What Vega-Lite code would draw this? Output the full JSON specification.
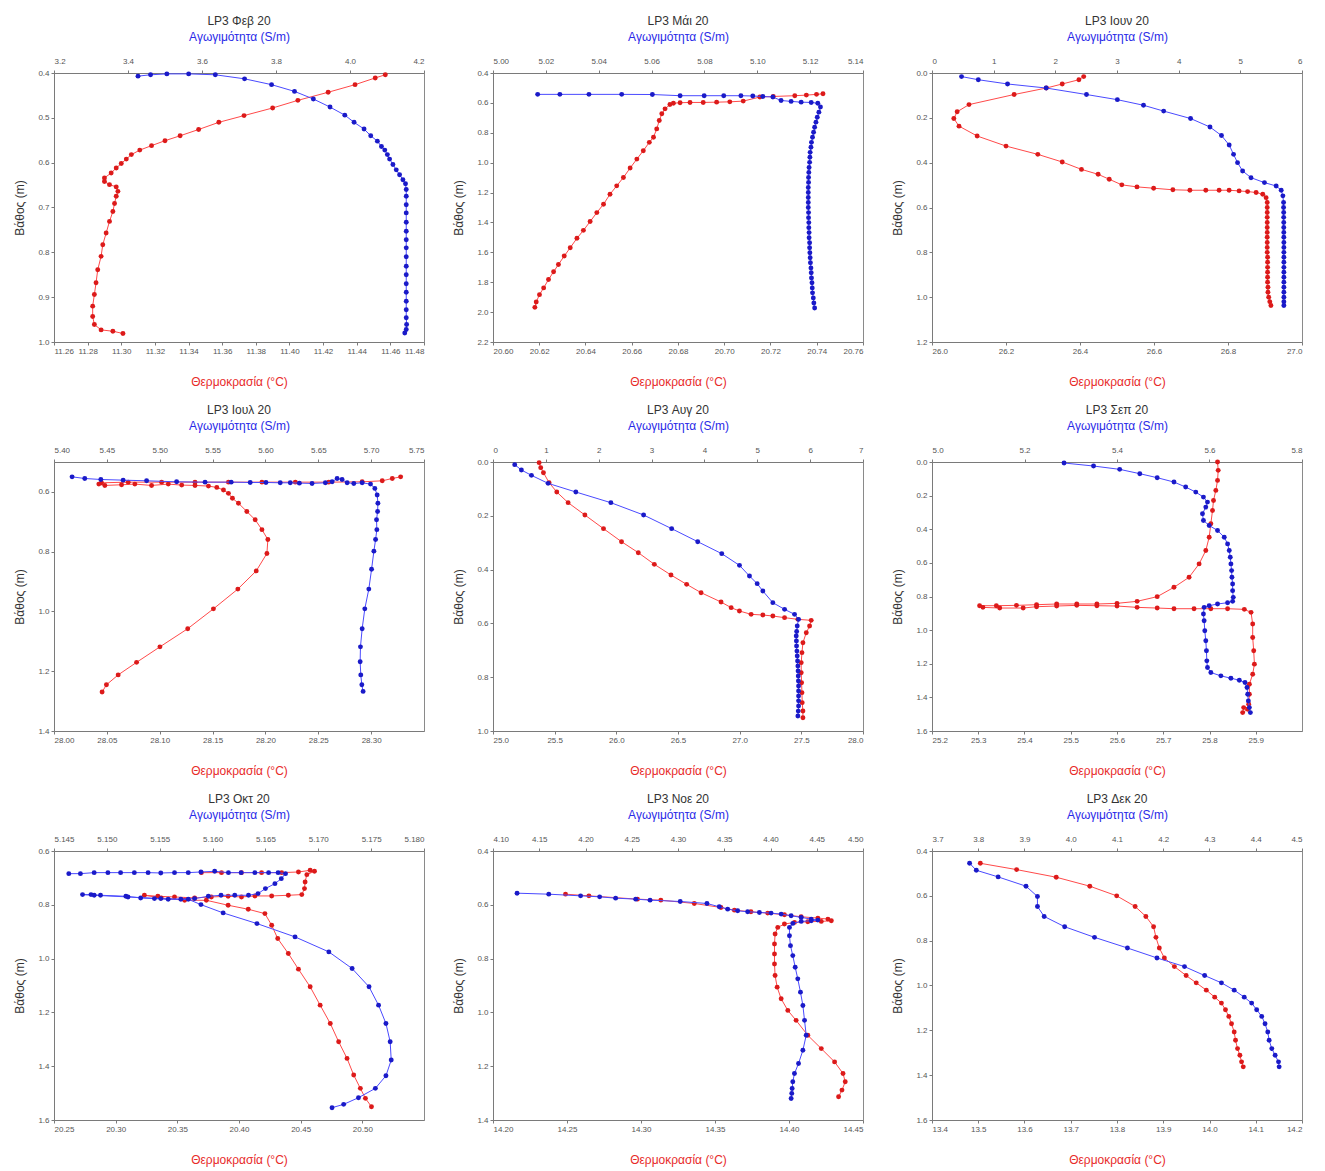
{
"$schema": "https://vega.github.io/schema/vega-lite/v6.json",
"background": "white",
"padding": {"left": 13, "top": 14, "right": 5, "bottom": 5},
"bounds": "flush",
"columns": 3,
"spacing": {"row": 120, "column": 69},
"datasets": {
"feb": [
{"s":"C","v":3.427,"d":0.407},{"s":"C","v":3.461,"d":0.404},{"s":"C","v":3.505,"d":0.402},{"s":"C","v":3.564,"d":0.402},{"s":"C","v":3.636,"d":0.404},{"s":"C","v":3.715,"d":0.413},{"s":"C","v":3.788,"d":0.426},{"s":"C","v":3.850,"d":0.441},{"s":"C","v":3.901,"d":0.458},{"s":"C","v":3.946,"d":0.476},{"s":"C","v":3.986,"d":0.494},{"s":"C","v":4.011,"d":0.510},{"s":"C","v":4.038,"d":0.525},{"s":"C","v":4.056,"d":0.540},{"s":"C","v":4.074,"d":0.552},{"s":"C","v":4.085,"d":0.564},{"s":"C","v":4.094,"d":0.572},{"s":"C","v":4.101,"d":0.582},{"s":"C","v":4.107,"d":0.592},{"s":"C","v":4.116,"d":0.604},{"s":"C","v":4.125,"d":0.616},{"s":"C","v":4.134,"d":0.627},{"s":"C","v":4.143,"d":0.638},{"s":"C","v":4.150,"d":0.647},{"s":"C","v":4.152,"d":0.660},{"s":"C","v":4.152,"d":0.675},{"s":"C","v":4.152,"d":0.694},{"s":"C","v":4.152,"d":0.712},{"s":"C","v":4.152,"d":0.733},{"s":"C","v":4.152,"d":0.753},{"s":"C","v":4.152,"d":0.772},{"s":"C","v":4.152,"d":0.790},{"s":"C","v":4.152,"d":0.810},{"s":"C","v":4.152,"d":0.831},{"s":"C","v":4.152,"d":0.850},{"s":"C","v":4.152,"d":0.870},{"s":"C","v":4.152,"d":0.889},{"s":"C","v":4.152,"d":0.909},{"s":"C","v":4.152,"d":0.928},{"s":"C","v":4.152,"d":0.946},{"s":"C","v":4.153,"d":0.961},{"s":"C","v":4.152,"d":0.972},{"s":"C","v":4.148,"d":0.980},
{"s":"T","v":11.457,"d":0.404},{"s":"T","v":11.451,"d":0.411},{"s":"T","v":11.439,"d":0.426},{"s":"T","v":11.423,"d":0.443},{"s":"T","v":11.405,"d":0.461},{"s":"T","v":11.390,"d":0.478},{"s":"T","v":11.373,"d":0.495},{"s":"T","v":11.358,"d":0.510},{"s":"T","v":11.346,"d":0.526},{"s":"T","v":11.335,"d":0.540},{"s":"T","v":11.326,"d":0.551},{"s":"T","v":11.318,"d":0.562},{"s":"T","v":11.311,"d":0.572},{"s":"T","v":11.306,"d":0.582},{"s":"T","v":11.303,"d":0.592},{"s":"T","v":11.300,"d":0.602},{"s":"T","v":11.297,"d":0.612},{"s":"T","v":11.294,"d":0.623},{"s":"T","v":11.290,"d":0.634},{"s":"T","v":11.290,"d":0.642},{"s":"T","v":11.293,"d":0.649},{"s":"T","v":11.297,"d":0.654},{"s":"T","v":11.298,"d":0.664},{"s":"T","v":11.297,"d":0.675},{"s":"T","v":11.296,"d":0.691},{"s":"T","v":11.295,"d":0.709},{"s":"T","v":11.293,"d":0.731},{"s":"T","v":11.291,"d":0.757},{"s":"T","v":11.289,"d":0.783},{"s":"T","v":11.288,"d":0.809},{"s":"T","v":11.286,"d":0.839},{"s":"T","v":11.285,"d":0.868},{"s":"T","v":11.284,"d":0.894},{"s":"T","v":11.283,"d":0.920},{"s":"T","v":11.283,"d":0.943},{"s":"T","v":11.284,"d":0.961},{"s":"T","v":11.288,"d":0.973},{"s":"T","v":11.295,"d":0.976},{"s":"T","v":11.301,"d":0.981}
],
"mai": [
{"s":"C","v":5.0169,"d":0.543},{"s":"C","v":5.0253,"d":0.543},{"s":"C","v":5.0363,"d":0.543},{"s":"C","v":5.0487,"d":0.543},{"s":"C","v":5.0603,"d":0.544},{"s":"C","v":5.0708,"d":0.552},{"s":"C","v":5.0799,"d":0.552},{"s":"C","v":5.0873,"d":0.552},{"s":"C","v":5.0938,"d":0.552},{"s":"C","v":5.0983,"d":0.554},{"s":"C","v":5.1021,"d":0.557},{"s":"C","v":5.1059,"d":0.561},{"s":"C","v":5.1090,"d":0.584},{"s":"C","v":5.1128,"d":0.590},{"s":"C","v":5.1166,"d":0.595},{"s":"C","v":5.1204,"d":0.597},{"s":"C","v":5.1229,"d":0.602},{"s":"C","v":5.1239,"d":0.628},{"s":"C","v":5.1233,"d":0.662},{"s":"C","v":5.1227,"d":0.696},{"s":"C","v":5.1222,"d":0.729},{"s":"C","v":5.1217,"d":0.763},{"s":"C","v":5.1213,"d":0.796},{"s":"C","v":5.1209,"d":0.830},{"s":"C","v":5.1205,"d":0.864},{"s":"C","v":5.1203,"d":0.897},{"s":"C","v":5.1200,"d":0.931},{"s":"C","v":5.1199,"d":0.964},{"s":"C","v":5.1198,"d":0.998},{"s":"C","v":5.1196,"d":1.032},{"s":"C","v":5.1195,"d":1.065},{"s":"C","v":5.1194,"d":1.099},{"s":"C","v":5.1194,"d":1.132},{"s":"C","v":5.1193,"d":1.166},{"s":"C","v":5.1193,"d":1.200},{"s":"C","v":5.1193,"d":1.233},{"s":"C","v":5.1193,"d":1.267},{"s":"C","v":5.1193,"d":1.300},{"s":"C","v":5.1194,"d":1.334},{"s":"C","v":5.1194,"d":1.368},{"s":"C","v":5.1195,"d":1.401},{"s":"C","v":5.1195,"d":1.435},{"s":"C","v":5.1196,"d":1.468},{"s":"C","v":5.1196,"d":1.502},{"s":"C","v":5.1198,"d":1.536},{"s":"C","v":5.1198,"d":1.569},{"s":"C","v":5.1199,"d":1.603},{"s":"C","v":5.1200,"d":1.636},{"s":"C","v":5.1201,"d":1.670},{"s":"C","v":5.1203,"d":1.704},{"s":"C","v":5.1204,"d":1.737},{"s":"C","v":5.1205,"d":1.771},{"s":"C","v":5.1207,"d":1.804},{"s":"C","v":5.1208,"d":1.838},{"s":"C","v":5.1209,"d":1.871},{"s":"C","v":5.1212,"d":1.905},{"s":"C","v":5.1214,"d":1.939},{"s":"C","v":5.1217,"d":1.972},
{"s":"T","v":20.7427,"d":0.539},{"s":"T","v":20.7399,"d":0.543},{"s":"T","v":20.7355,"d":0.548},{"s":"T","v":20.7305,"d":0.552},{"s":"T","v":20.7212,"d":0.557},{"s":"T","v":20.7154,"d":0.561},{"s":"T","v":20.7082,"d":0.588},{"s":"T","v":20.7024,"d":0.593},{"s":"T","v":20.6967,"d":0.595},{"s":"T","v":20.6909,"d":0.597},{"s":"T","v":20.6852,"d":0.597},{"s":"T","v":20.6809,"d":0.599},{"s":"T","v":20.678,"d":0.602},{"s":"T","v":20.6765,"d":0.611},{"s":"T","v":20.6744,"d":0.640},{"s":"T","v":20.673,"d":0.673},{"s":"T","v":20.6719,"d":0.718},{"s":"T","v":20.6708,"d":0.774},{"s":"T","v":20.6694,"d":0.830},{"s":"T","v":20.6676,"d":0.864},{"s":"T","v":20.665,"d":0.920},{"s":"T","v":20.6622,"d":0.976},{"s":"T","v":20.6593,"d":1.036},{"s":"T","v":20.6564,"d":1.099},{"s":"T","v":20.6535,"d":1.155},{"s":"T","v":20.6506,"d":1.211},{"s":"T","v":20.6478,"d":1.278},{"s":"T","v":20.6449,"d":1.334},{"s":"T","v":20.642,"d":1.394},{"s":"T","v":20.6391,"d":1.453},{"s":"T","v":20.6363,"d":1.506},{"s":"T","v":20.6334,"d":1.569},{"s":"T","v":20.6308,"d":1.625},{"s":"T","v":20.6283,"d":1.681},{"s":"T","v":20.6262,"d":1.730},{"s":"T","v":20.624,"d":1.782},{"s":"T","v":20.6219,"d":1.838},{"s":"T","v":20.6201,"d":1.883},{"s":"T","v":20.6187,"d":1.932},{"s":"T","v":20.6181,"d":1.968}
],
"iun": [
{"s":"C","v":0.479,"d":0.016},{"s":"C","v":0.751,"d":0.030},{"s":"C","v":1.225,"d":0.049},{"s":"C","v":1.851,"d":0.067},{"s":"C","v":2.505,"d":0.096},{"s":"C","v":3.006,"d":0.119},{"s":"C","v":3.430,"d":0.144},{"s":"C","v":3.757,"d":0.170},{"s":"C","v":4.193,"d":0.203},{"s":"C","v":4.508,"d":0.241},{"s":"C","v":4.694,"d":0.279},{"s":"C","v":4.819,"d":0.321},{"s":"C","v":4.890,"d":0.363},{"s":"C","v":4.955,"d":0.400},{"s":"C","v":5.037,"d":0.437},{"s":"C","v":5.173,"d":0.467},{"s":"C","v":5.391,"d":0.489},{"s":"C","v":5.581,"d":0.504},{"s":"C","v":5.663,"d":0.523},{"s":"C","v":5.690,"d":0.548},{"s":"C","v":5.701,"d":0.578},{"s":"C","v":5.701,"d":0.600},{"s":"C","v":5.703,"d":0.622},{"s":"C","v":5.703,"d":0.644},{"s":"C","v":5.704,"d":0.667},{"s":"C","v":5.704,"d":0.689},{"s":"C","v":5.705,"d":0.711},{"s":"C","v":5.705,"d":0.733},{"s":"C","v":5.706,"d":0.756},{"s":"C","v":5.706,"d":0.778},{"s":"C","v":5.706,"d":0.800},{"s":"C","v":5.706,"d":0.822},{"s":"C","v":5.706,"d":0.844},{"s":"C","v":5.706,"d":0.867},{"s":"C","v":5.706,"d":0.889},{"s":"C","v":5.706,"d":0.911},{"s":"C","v":5.706,"d":0.933},{"s":"C","v":5.706,"d":0.956},{"s":"C","v":5.706,"d":0.978},{"s":"C","v":5.706,"d":1.000},{"s":"C","v":5.706,"d":1.020},{"s":"C","v":5.706,"d":1.037},
{"s":"T","v":26.410,"d":0.016},{"s":"T","v":26.397,"d":0.030},{"s":"T","v":26.352,"d":0.049},{"s":"T","v":26.309,"d":0.067},{"s":"T","v":26.222,"d":0.096},{"s":"T","v":26.100,"d":0.141},{"s":"T","v":26.068,"d":0.173},{"s":"T","v":26.059,"d":0.203},{"s":"T","v":26.073,"d":0.237},{"s":"T","v":26.122,"d":0.281},{"s":"T","v":26.200,"d":0.326},{"s":"T","v":26.286,"d":0.363},{"s":"T","v":26.352,"d":0.397},{"s":"T","v":26.404,"d":0.430},{"s":"T","v":26.449,"d":0.452},{"s":"T","v":26.479,"d":0.474},{"s":"T","v":26.513,"d":0.499},{"s":"T","v":26.554,"d":0.508},{"s":"T","v":26.599,"d":0.514},{"s":"T","v":26.651,"d":0.521},{"s":"T","v":26.697,"d":0.523},{"s":"T","v":26.740,"d":0.523},{"s":"T","v":26.776,"d":0.523},{"s":"T","v":26.803,"d":0.523},{"s":"T","v":26.830,"d":0.526},{"s":"T","v":26.853,"d":0.529},{"s":"T","v":26.876,"d":0.533},{"s":"T","v":26.894,"d":0.541},{"s":"T","v":26.903,"d":0.556},{"s":"T","v":26.906,"d":0.578},{"s":"T","v":26.906,"d":0.600},{"s":"T","v":26.906,"d":0.622},{"s":"T","v":26.906,"d":0.644},{"s":"T","v":26.906,"d":0.667},{"s":"T","v":26.906,"d":0.689},{"s":"T","v":26.906,"d":0.711},{"s":"T","v":26.906,"d":0.733},{"s":"T","v":26.906,"d":0.756},{"s":"T","v":26.906,"d":0.778},{"s":"T","v":26.906,"d":0.800},{"s":"T","v":26.907,"d":0.822},{"s":"T","v":26.907,"d":0.844},{"s":"T","v":26.907,"d":0.867},{"s":"T","v":26.907,"d":0.889},{"s":"T","v":26.907,"d":0.911},{"s":"T","v":26.907,"d":0.933},{"s":"T","v":26.908,"d":0.956},{"s":"T","v":26.908,"d":0.978},{"s":"T","v":26.910,"d":1.000},{"s":"T","v":26.913,"d":1.020},{"s":"T","v":26.916,"d":1.037}
],
"iul": [
{"s":"C","v":5.4171,"d":0.5497},{"s":"C","v":5.4291,"d":0.5552},{"s":"C","v":5.4443,"d":0.5585},{"s":"C","v":5.4654,"d":0.5607},{"s":"C","v":5.4876,"d":0.5629},{"s":"C","v":5.516,"d":0.5663},{"s":"C","v":5.5429,"d":0.5674},{"s":"C","v":5.5676,"d":0.5674},{"s":"C","v":5.5856,"d":0.5685},{"s":"C","v":5.6005,"d":0.5685},{"s":"C","v":5.614,"d":0.5696},{"s":"C","v":5.6235,"d":0.5696},{"s":"C","v":5.6321,"d":0.5707},{"s":"C","v":5.6441,"d":0.5718},{"s":"C","v":5.6567,"d":0.5696},{"s":"C","v":5.6631,"d":0.5663},{"s":"C","v":5.6678,"d":0.5552},{"s":"C","v":5.6725,"d":0.5585},{"s":"C","v":5.6773,"d":0.5696},{"s":"C","v":5.6836,"d":0.5718},{"s":"C","v":5.6915,"d":0.5696},{"s":"C","v":5.6994,"d":0.574},{"s":"C","v":5.7035,"d":0.5883},{"s":"C","v":5.7057,"d":0.6104},{"s":"C","v":5.7064,"d":0.638},{"s":"C","v":5.7061,"d":0.6656},{"s":"C","v":5.7051,"d":0.6933},{"s":"C","v":5.7054,"d":0.7264},{"s":"C","v":5.7042,"d":0.7595},{"s":"C","v":5.7026,"d":0.7982},{"s":"C","v":5.7004,"d":0.8589},{"s":"C","v":5.6978,"d":0.9252},{"s":"C","v":5.694,"d":0.9914},{"s":"C","v":5.6915,"d":1.0577},{"s":"C","v":5.6899,"d":1.1184},{"s":"C","v":5.6896,"d":1.1681},{"s":"C","v":5.6902,"d":1.2123},{"s":"C","v":5.6912,"d":1.2454},{"s":"C","v":5.6924,"d":1.2675},
{"s":"T","v":28.3279,"d":0.5497},{"s":"T","v":28.32,"d":0.5552},{"s":"T","v":28.3105,"d":0.5629},{"s":"T","v":28.2915,"d":0.5663},{"s":"T","v":28.2599,"d":0.5674},{"s":"T","v":28.2283,"d":0.5674},{"s":"T","v":28.1967,"d":0.5674},{"s":"T","v":28.165,"d":0.5674},{"s":"T","v":28.1334,"d":0.5674},{"s":"T","v":28.1018,"d":0.5674},{"s":"T","v":28.0702,"d":0.5674},{"s":"T","v":28.0449,"d":0.5696},{"s":"T","v":28.0424,"d":0.574},{"s":"T","v":28.0481,"d":0.5784},{"s":"T","v":28.0639,"d":0.5762},{"s":"T","v":28.0765,"d":0.574},{"s":"T","v":28.0923,"d":0.5784},{"s":"T","v":28.1081,"d":0.574},{"s":"T","v":28.1208,"d":0.5773},{"s":"T","v":28.1334,"d":0.5784},{"s":"T","v":28.1461,"d":0.5806},{"s":"T","v":28.154,"d":0.585},{"s":"T","v":28.1603,"d":0.5939},{"s":"T","v":28.165,"d":0.6049},{"s":"T","v":28.1688,"d":0.6215},{"s":"T","v":28.1745,"d":0.638},{"s":"T","v":28.1824,"d":0.6656},{"s":"T","v":28.1903,"d":0.6933},{"s":"T","v":28.1967,"d":0.7264},{"s":"T","v":28.2023,"d":0.7595},{"s":"T","v":28.2014,"d":0.8059},{"s":"T","v":28.1913,"d":0.8644},{"s":"T","v":28.1739,"d":0.9252},{"s":"T","v":28.1508,"d":0.9914},{"s":"T","v":28.1265,"d":1.0577},{"s":"T","v":28.1002,"d":1.1184},{"s":"T","v":28.0781,"d":1.1703},{"s":"T","v":28.0607,"d":1.2123},{"s":"T","v":28.0496,"d":1.2454},{"s":"T","v":28.0455,"d":1.2697}
],
"aug": [
{"s":"C","v":0.411,"d":0.0099},{"s":"C","v":0.537,"d":0.0297},{"s":"C","v":0.727,"d":0.0496},{"s":"C","v":1.042,"d":0.0793},{"s":"C","v":1.567,"d":0.1115},{"s":"C","v":2.230,"d":0.1512},{"s":"C","v":2.849,"d":0.197},{"s":"C","v":3.380,"d":0.2478},{"s":"C","v":3.873,"d":0.2962},{"s":"C","v":4.328,"d":0.3408},{"s":"C","v":4.663,"d":0.3842},{"s":"C","v":4.852,"d":0.4238},{"s":"C","v":4.998,"d":0.4523},{"s":"C","v":5.105,"d":0.4796},{"s":"C","v":5.294,"d":0.5229},{"s":"C","v":5.516,"d":0.5477},{"s":"C","v":5.705,"d":0.5663},{"s":"C","v":5.781,"d":0.5849},{"s":"C","v":5.756,"d":0.6097},{"s":"C","v":5.745,"d":0.630},{"s":"C","v":5.737,"d":0.6469},{"s":"C","v":5.740,"d":0.665},{"s":"C","v":5.743,"d":0.684},{"s":"C","v":5.750,"d":0.703},{"s":"C","v":5.756,"d":0.7212},{"s":"C","v":5.762,"d":0.740},{"s":"C","v":5.768,"d":0.7584},{"s":"C","v":5.772,"d":0.777},{"s":"C","v":5.775,"d":0.7956},{"s":"C","v":5.778,"d":0.814},{"s":"C","v":5.781,"d":0.8327},{"s":"C","v":5.781,"d":0.851},{"s":"C","v":5.781,"d":0.8699},{"s":"C","v":5.781,"d":0.888},{"s":"C","v":5.781,"d":0.9071},{"s":"C","v":5.775,"d":0.926},{"s":"C","v":5.768,"d":0.9443},
{"s":"T","v":25.374,"d":0.0025},{"s":"T","v":25.387,"d":0.0211},{"s":"T","v":25.409,"d":0.0397},{"s":"T","v":25.455,"d":0.0768},{"s":"T","v":25.517,"d":0.1115},{"s":"T","v":25.609,"d":0.1512},{"s":"T","v":25.745,"d":0.197},{"s":"T","v":25.896,"d":0.2478},{"s":"T","v":26.042,"d":0.2962},{"s":"T","v":26.178,"d":0.3371},{"s":"T","v":26.308,"d":0.3804},{"s":"T","v":26.443,"d":0.4201},{"s":"T","v":26.570,"d":0.4548},{"s":"T","v":26.687,"d":0.4858},{"s":"T","v":26.849,"d":0.5205},{"s":"T","v":26.931,"d":0.5415},{"s":"T","v":26.998,"d":0.5539},{"s":"T","v":27.093,"d":0.5663},{"s":"T","v":27.188,"d":0.5688},{"s":"T","v":27.269,"d":0.5725},{"s":"T","v":27.364,"d":0.5787},{"s":"T","v":27.472,"d":0.5849},{"s":"T","v":27.580,"d":0.5886},{"s":"T","v":27.567,"d":0.6097},{"s":"T","v":27.540,"d":0.6345},{"s":"T","v":27.513,"d":0.6717},{"s":"T","v":27.505,"d":0.7088},{"s":"T","v":27.499,"d":0.746},{"s":"T","v":27.499,"d":0.7832},{"s":"T","v":27.502,"d":0.8204},{"s":"T","v":27.505,"d":0.8575},{"s":"T","v":27.507,"d":0.8947},{"s":"T","v":27.513,"d":0.9257},{"s":"T","v":27.513,"d":0.9505}
],
"sep": [
{"s":"C","v":5.2855,"d":0.006},{"s":"C","v":5.3493,"d":0.0239},{"s":"C","v":5.4058,"d":0.0437},{"s":"C","v":5.4493,"d":0.0696},{"s":"C","v":5.4869,"d":0.0934},{"s":"C","v":5.5232,"d":0.1193},{"s":"C","v":5.5485,"d":0.1491},{"s":"C","v":5.5703,"d":0.1789},{"s":"C","v":5.5869,"d":0.2087},{"s":"C","v":5.5956,"d":0.2385},{"s":"C","v":5.592,"d":0.2683},{"s":"C","v":5.5848,"d":0.3081},{"s":"C","v":5.5869,"d":0.3478},{"s":"C","v":5.5993,"d":0.3776},{"s":"C","v":5.6174,"d":0.4075},{"s":"C","v":5.6319,"d":0.4472},{"s":"C","v":5.6391,"d":0.487},{"s":"C","v":5.6427,"d":0.5267},{"s":"C","v":5.6449,"d":0.5665},{"s":"C","v":5.6463,"d":0.6062},{"s":"C","v":5.6478,"d":0.646},{"s":"C","v":5.6485,"d":0.6857},{"s":"C","v":5.65,"d":0.7255},{"s":"C","v":5.65,"d":0.7652},{"s":"C","v":5.6514,"d":0.805},{"s":"C","v":5.65,"d":0.8288},{"s":"C","v":5.6391,"d":0.8368},{"s":"C","v":5.6174,"d":0.8447},{"s":"C","v":5.5993,"d":0.8547},{"s":"C","v":5.5884,"d":0.8646},{"s":"C","v":5.5869,"d":0.9044},{"s":"C","v":5.5884,"d":0.9441},{"s":"C","v":5.5898,"d":1.0037},{"s":"C","v":5.592,"d":1.0634},{"s":"C","v":5.5934,"d":1.123},{"s":"C","v":5.5942,"d":1.1826},{"s":"C","v":5.5956,"d":1.2224},{"s":"C","v":5.6029,"d":1.2522},{"s":"C","v":5.6246,"d":1.2721},{"s":"C","v":5.6463,"d":1.286},{"s":"C","v":5.6645,"d":1.2979},{"s":"C","v":5.6768,"d":1.3118},{"s":"C","v":5.6811,"d":1.3416},{"s":"C","v":5.6826,"d":1.3814},{"s":"C","v":5.684,"d":1.4211},{"s":"C","v":5.6862,"d":1.4609},{"s":"C","v":5.6884,"d":1.4907},
{"s":"T","v":25.8174,"d":0.0},{"s":"T","v":25.8188,"d":0.0497},{"s":"T","v":25.8174,"d":0.1093},{"s":"T","v":25.8137,"d":0.1689},{"s":"T","v":25.8087,"d":0.2286},{"s":"T","v":25.8065,"d":0.2882},{"s":"T","v":25.8029,"d":0.3677},{"s":"T","v":25.7993,"d":0.4472},{"s":"T","v":25.792,"d":0.5267},{"s":"T","v":25.7775,"d":0.6062},{"s":"T","v":25.7558,"d":0.6857},{"s":"T","v":25.7232,"d":0.7454},{"s":"T","v":25.6869,"d":0.801},{"s":"T","v":25.6435,"d":0.8288},{"s":"T","v":25.6,"d":0.8407},{"s":"T","v":25.5565,"d":0.8447},{"s":"T","v":25.513,"d":0.8447},{"s":"T","v":25.4695,"d":0.8447},{"s":"T","v":25.4261,"d":0.8487},{"s":"T","v":25.3826,"d":0.8527},{"s":"T","v":25.3391,"d":0.8547},{"s":"T","v":25.3029,"d":0.8547},{"s":"T","v":25.3101,"d":0.8646},{"s":"T","v":25.3464,"d":0.8686},{"s":"T","v":25.3971,"d":0.8686},{"s":"T","v":25.4261,"d":0.8606},{"s":"T","v":25.4695,"d":0.8566},{"s":"T","v":25.513,"d":0.8527},{"s":"T","v":25.5565,"d":0.8547},{"s":"T","v":25.6,"d":0.8566},{"s":"T","v":25.6435,"d":0.8646},{"s":"T","v":25.6869,"d":0.8686},{"s":"T","v":25.7232,"d":0.8726},{"s":"T","v":25.7666,"d":0.8726},{"s":"T","v":25.8029,"d":0.8726},{"s":"T","v":25.8391,"d":0.8726},{"s":"T","v":25.8753,"d":0.8765},{"s":"T","v":25.8898,"d":0.8944},{"s":"T","v":25.8934,"d":0.964},{"s":"T","v":25.8934,"d":1.0435},{"s":"T","v":25.8956,"d":1.123},{"s":"T","v":25.8971,"d":1.2025},{"s":"T","v":25.8934,"d":1.2621},{"s":"T","v":25.8862,"d":1.3218},{"s":"T","v":25.8862,"d":1.3814},{"s":"T","v":25.8848,"d":1.441},{"s":"T","v":25.8826,"d":1.4708},{"s":"T","v":25.8717,"d":1.4907},{"s":"T","v":25.8739,"d":1.4609}
],
"okt": [
{"s":"C","v":5.1464,"d":0.6842},{"s":"C","v":5.1475,"d":0.6842},{"s":"C","v":5.1488,"d":0.6804},{"s":"C","v":5.1501,"d":0.6804},{"s":"C","v":5.1513,"d":0.6804},{"s":"C","v":5.1526,"d":0.6804},{"s":"C","v":5.1539,"d":0.6804},{"s":"C","v":5.1551,"d":0.6817},{"s":"C","v":5.1564,"d":0.6804},{"s":"C","v":5.1577,"d":0.6804},{"s":"C","v":5.1589,"d":0.678},{"s":"C","v":5.1602,"d":0.6755},{"s":"C","v":5.1615,"d":0.6804},{"s":"C","v":5.1627,"d":0.6804},{"s":"C","v":5.164,"d":0.6804},{"s":"C","v":5.1653,"d":0.6804},{"s":"C","v":5.1662,"d":0.6804},{"s":"C","v":5.1669,"d":0.6842},{"s":"C","v":5.1665,"d":0.7027},{"s":"C","v":5.1659,"d":0.7213},{"s":"C","v":5.165,"d":0.7398},{"s":"C","v":5.1643,"d":0.7584},{"s":"C","v":5.1634,"d":0.7646},{"s":"C","v":5.1621,"d":0.7646},{"s":"C","v":5.1608,"d":0.7646},{"s":"C","v":5.1596,"d":0.7683},{"s":"C","v":5.1583,"d":0.777},{"s":"C","v":5.157,"d":0.7795},{"s":"C","v":5.1558,"d":0.7795},{"s":"C","v":5.1545,"d":0.777},{"s":"C","v":5.1532,"d":0.7745},{"s":"C","v":5.1518,"d":0.7683},{"s":"C","v":5.1494,"d":0.7646},{"s":"C","v":5.1485,"d":0.7621},{"s":"C","v":5.1477,"d":0.7621},{"s":"C","v":5.1488,"d":0.7646},{"s":"C","v":5.152,"d":0.7708},{"s":"C","v":5.1551,"d":0.777},{"s":"C","v":5.1577,"d":0.7795},{"s":"C","v":5.1589,"d":0.7993},{"s":"C","v":5.161,"d":0.8302},{"s":"C","v":5.1642,"d":0.8698},{"s":"C","v":5.1678,"d":0.9193},{"s":"C","v":5.171,"d":0.975},{"s":"C","v":5.1732,"d":1.0369},{"s":"C","v":5.1748,"d":1.1049},{"s":"C","v":5.1757,"d":1.173},{"s":"C","v":5.1764,"d":1.2411},{"s":"C","v":5.1768,"d":1.3091},{"s":"C","v":5.1769,"d":1.3772},{"s":"C","v":5.1764,"d":1.4354},{"s":"C","v":5.1754,"d":1.4824},{"s":"C","v":5.1738,"d":1.5171},{"s":"C","v":5.1724,"d":1.5418},{"s":"C","v":5.1713,"d":1.5542},
{"s":"T","v":20.3695,"d":0.6804},{"s":"T","v":20.3858,"d":0.6804},{"s":"T","v":20.402,"d":0.6804},{"s":"T","v":20.4183,"d":0.6804},{"s":"T","v":20.4346,"d":0.6804},{"s":"T","v":20.4482,"d":0.678},{"s":"T","v":20.4577,"d":0.6718},{"s":"T","v":20.4612,"d":0.6755},{"s":"T","v":20.455,"d":0.6879},{"s":"T","v":20.4536,"d":0.7151},{"s":"T","v":20.4531,"d":0.7398},{"s":"T","v":20.4509,"d":0.7621},{"s":"T","v":20.44,"d":0.7646},{"s":"T","v":20.4265,"d":0.7671},{"s":"T","v":20.4129,"d":0.7671},{"s":"T","v":20.402,"d":0.7708},{"s":"T","v":20.3912,"d":0.7683},{"s":"T","v":20.3776,"d":0.7708},{"s":"T","v":20.364,"d":0.7745},{"s":"T","v":20.3477,"d":0.7708},{"s":"T","v":20.3342,"d":0.7683},{"s":"T","v":20.3233,"d":0.7646},{"s":"T","v":20.3369,"d":0.7745},{"s":"T","v":20.3559,"d":0.7832},{"s":"T","v":20.3735,"d":0.7832},{"s":"T","v":20.3912,"d":0.8017},{"s":"T","v":20.4075,"d":0.8166},{"s":"T","v":20.421,"d":0.8327},{"s":"T","v":20.4265,"d":0.876},{"s":"T","v":20.4314,"d":0.9255},{"s":"T","v":20.44,"d":0.9812},{"s":"T","v":20.4482,"d":1.0393},{"s":"T","v":20.4577,"d":1.1049},{"s":"T","v":20.4658,"d":1.173},{"s":"T","v":20.474,"d":1.2411},{"s":"T","v":20.4808,"d":1.3091},{"s":"T","v":20.4876,"d":1.371},{"s":"T","v":20.493,"d":1.4329},{"s":"T","v":20.4984,"d":1.4824},{"s":"T","v":20.5025,"d":1.5195},{"s":"T","v":20.5074,"d":1.5505}
],
"noe": [
{"s":"C","v":4.126,"d":0.5568},{"s":"C","v":4.1603,"d":0.5605},{"s":"C","v":4.1947,"d":0.5667},{"s":"C","v":4.2153,"d":0.5704},{"s":"C","v":4.2326,"d":0.5753},{"s":"C","v":4.2543,"d":0.579},{"s":"C","v":4.2698,"d":0.5827},{"s":"C","v":4.3024,"d":0.5877},{"s":"C","v":4.3313,"d":0.5951},{"s":"C","v":4.3446,"d":0.6074},{"s":"C","v":4.3537,"d":0.6161},{"s":"C","v":4.3645,"d":0.6222},{"s":"C","v":4.3753,"d":0.6259},{"s":"C","v":4.388,"d":0.6284},{"s":"C","v":4.4006,"d":0.6309},{"s":"C","v":4.4115,"d":0.6346},{"s":"C","v":4.4223,"d":0.6407},{"s":"C","v":4.4332,"d":0.6469},{"s":"C","v":4.444,"d":0.6531},{"s":"C","v":4.4512,"d":0.6568},{"s":"C","v":4.444,"d":0.6593},{"s":"C","v":4.4332,"d":0.6617},{"s":"C","v":4.4241,"d":0.6691},{"s":"C","v":4.4205,"d":0.684},{"s":"C","v":4.4205,"d":0.7148},{"s":"C","v":4.4216,"d":0.7519},{"s":"C","v":4.4241,"d":0.7889},{"s":"C","v":4.4267,"d":0.8321},{"s":"C","v":4.4295,"d":0.8753},{"s":"C","v":4.4324,"d":0.9247},{"s":"C","v":4.435,"d":0.9741},{"s":"C","v":4.4368,"d":1.0296},{"s":"C","v":4.4386,"d":1.0852},{"s":"C","v":4.435,"d":1.1407},{"s":"C","v":4.4303,"d":1.1901},{"s":"C","v":4.4259,"d":1.2272},{"s":"C","v":4.4241,"d":1.258},{"s":"C","v":4.4234,"d":1.2827},{"s":"C","v":4.423,"d":1.3012},{"s":"C","v":4.4223,"d":1.3198},
{"s":"T","v":14.249,"d":0.5605},{"s":"T","v":14.2648,"d":0.5667},{"s":"T","v":14.2976,"d":0.579},{"s":"T","v":14.3134,"d":0.5827},{"s":"T","v":14.336,"d":0.5951},{"s":"T","v":14.354,"d":0.6099},{"s":"T","v":14.3631,"d":0.6198},{"s":"T","v":14.3743,"d":0.6259},{"s":"T","v":14.3856,"d":0.6309},{"s":"T","v":14.3969,"d":0.637},{"s":"T","v":14.4082,"d":0.6444},{"s":"T","v":14.4195,"d":0.6494},{"s":"T","v":14.4263,"d":0.6531},{"s":"T","v":14.4286,"d":0.6593},{"s":"T","v":14.4218,"d":0.6617},{"s":"T","v":14.4127,"d":0.663},{"s":"T","v":14.4037,"d":0.6654},{"s":"T","v":14.3969,"d":0.6716},{"s":"T","v":14.3924,"d":0.684},{"s":"T","v":14.3906,"d":0.7086},{"s":"T","v":14.3902,"d":0.7457},{"s":"T","v":14.3902,"d":0.7827},{"s":"T","v":14.3902,"d":0.8198},{"s":"T","v":14.3906,"d":0.863},{"s":"T","v":14.392,"d":0.9062},{"s":"T","v":14.3947,"d":0.9494},{"s":"T","v":14.3992,"d":0.9926},{"s":"T","v":14.4048,"d":1.0296},{"s":"T","v":14.4127,"d":1.0852},{"s":"T","v":14.4218,"d":1.1346},{"s":"T","v":14.4308,"d":1.184},{"s":"T","v":14.4365,"d":1.2272},{"s":"T","v":14.438,"d":1.258},{"s":"T","v":14.4358,"d":1.2889},{"s":"T","v":14.4335,"d":1.3136}
],
"dek": [
{"s":"C","v":3.7813,"d":0.4548},{"s":"C","v":3.7958,"d":0.4859},{"s":"C","v":3.843,"d":0.5156},{"s":"C","v":3.9033,"d":0.557},{"s":"C","v":3.928,"d":0.603},{"s":"C","v":3.928,"d":0.6474},{"s":"C","v":3.9425,"d":0.6919},{"s":"C","v":3.9868,"d":0.7378},{"s":"C","v":4.0514,"d":0.7852},{"s":"C","v":4.1225,"d":0.8326},{"s":"C","v":4.1864,"d":0.877},{"s":"C","v":4.2459,"d":0.9156},{"s":"C","v":4.2895,"d":0.9556},{"s":"C","v":4.3258,"d":0.9881},{"s":"C","v":4.3534,"d":1.0207},{"s":"C","v":4.3751,"d":1.0519},{"s":"C","v":4.3911,"d":1.0785},{"s":"C","v":4.402,"d":1.1081},{"s":"C","v":4.4129,"d":1.1378},{"s":"C","v":4.4201,"d":1.1704},{"s":"C","v":4.426,"d":1.2074},{"s":"C","v":4.4289,"d":1.2444},{"s":"C","v":4.4347,"d":1.2815},{"s":"C","v":4.4419,"d":1.3111},{"s":"C","v":4.4492,"d":1.3407},{"s":"C","v":4.4506,"d":1.363},
{"s":"T","v":13.5045,"d":0.4548},{"s":"T","v":13.5829,"d":0.483},{"s":"T","v":13.6686,"d":0.517},{"s":"T","v":13.7412,"d":0.557},{"s":"T","v":13.7993,"d":0.6},{"s":"T","v":13.8392,"d":0.6474},{"s":"T","v":13.8624,"d":0.6919},{"s":"T","v":13.8791,"d":0.7378},{"s":"T","v":13.8842,"d":0.7852},{"s":"T","v":13.8915,"d":0.8326},{"s":"T","v":13.9024,"d":0.877},{"s":"T","v":13.9241,"d":0.9156},{"s":"T","v":13.9495,"d":0.9556},{"s":"T","v":13.9713,"d":0.9881},{"s":"T","v":13.9931,"d":1.0207},{"s":"T","v":14.0113,"d":1.0519},{"s":"T","v":14.0258,"d":1.0785},{"s":"T","v":14.0345,"d":1.1081},{"s":"T","v":14.0417,"d":1.1378},{"s":"T","v":14.0476,"d":1.1704},{"s":"T","v":14.0534,"d":1.2074},{"s":"T","v":14.0563,"d":1.2444},{"s":"T","v":14.0606,"d":1.2815},{"s":"T","v":14.0657,"d":1.3111},{"s":"T","v":14.0693,"d":1.3407},{"s":"T","v":14.073,"d":1.363}
]
},
"concat": [
{"title": "LP3 Φεβ 20", "data": {"name": "feb"}, "width": 370, "height": 269,
 "encoding": {"y": {"field": "d", "type": "quantitative", "scale": {"domain": [0.4, 1.0], "reverse": true, "nice": false, "zero": false}, "axis": {"title": "Βάθος (m)", "values": [0.4,0.5,0.6,0.7,0.8,0.9,1.0], "format": ".1f"}}},
 "layer": [
  {"transform": [{"filter": "datum.s=='T'"}], "mark": {"type": "line", "color": "#ff4a4a", "strokeWidth": 1, "point": {"filled": true, "color": "#dc1a1a", "size": 24, "opacity": 1}},
   "encoding": {"x": {"field": "v", "type": "quantitative", "scale": {"domain": [11.26, 11.48], "nice": false, "zero": false}, "axis": {"orient": "bottom", "title": "Θερμοκρασία (°C)", "titleColor": "#e82a2a", "titlePadding": 21, "values": [11.26,11.28,11.30,11.32,11.34,11.36,11.38,11.40,11.42,11.44,11.46,11.48], "format": ".2f"}}, "order": {"value": null}}},
  {"transform": [{"filter": "datum.s=='C'"}], "mark": {"type": "line", "color": "#4a4aff", "strokeWidth": 1, "point": {"filled": true, "color": "#1a1ac8", "size": 24, "opacity": 1}},
   "encoding": {"x": {"field": "v", "type": "quantitative", "scale": {"domain": [3.2, 4.2], "nice": false, "zero": false}, "axis": {"orient": "top", "title": "Αγωγιμότητα (S/m)", "titleColor": "#2a2ae8", "titlePadding": 14, "values": [3.2,3.4,3.6,3.8,4.0,4.2], "format": ".1f"}}, "order": {"value": null}}}
 ],
 "resolve": {"scale": {"x": "independent"}}},
{"title": "LP3 Μάι 20", "data": {"name": "mai"}, "width": 370, "height": 269,
 "encoding": {"y": {"field": "d", "type": "quantitative", "scale": {"domain": [0.4, 2.2], "reverse": true, "nice": false, "zero": false}, "axis": {"title": "Βάθος (m)", "values": [0.4,0.6,0.8,1.0,1.2,1.4,1.6,1.8,2.0,2.2], "format": ".1f"}}},
 "layer": [
  {"transform": [{"filter": "datum.s=='T'"}], "mark": {"type": "line", "color": "#ff4a4a", "strokeWidth": 1, "point": {"filled": true, "color": "#dc1a1a", "size": 24, "opacity": 1}},
   "encoding": {"x": {"field": "v", "type": "quantitative", "scale": {"domain": [20.60, 20.76], "nice": false, "zero": false}, "axis": {"orient": "bottom", "title": "Θερμοκρασία (°C)", "titleColor": "#e82a2a", "titlePadding": 21, "values": [20.60,20.62,20.64,20.66,20.68,20.70,20.72,20.74,20.76], "format": ".2f"}}, "order": {"value": null}}},
  {"transform": [{"filter": "datum.s=='C'"}], "mark": {"type": "line", "color": "#4a4aff", "strokeWidth": 1, "point": {"filled": true, "color": "#1a1ac8", "size": 24, "opacity": 1}},
   "encoding": {"x": {"field": "v", "type": "quantitative", "scale": {"domain": [5.00, 5.14], "nice": false, "zero": false}, "axis": {"orient": "top", "title": "Αγωγιμότητα (S/m)", "titleColor": "#2a2ae8", "titlePadding": 14, "values": [5.00,5.02,5.04,5.06,5.08,5.10,5.12,5.14], "format": ".2f"}}, "order": {"value": null}}}
 ],
 "resolve": {"scale": {"x": "independent"}}},
{"title": "LP3 Ιουν 20", "data": {"name": "iun"}, "width": 370, "height": 269,
 "encoding": {"y": {"field": "d", "type": "quantitative", "scale": {"domain": [0.0, 1.2], "reverse": true, "nice": false, "zero": false}, "axis": {"title": "Βάθος (m)", "values": [0.0,0.2,0.4,0.6,0.8,1.0,1.2], "format": ".1f"}}},
 "layer": [
  {"transform": [{"filter": "datum.s=='T'"}], "mark": {"type": "line", "color": "#ff4a4a", "strokeWidth": 1, "point": {"filled": true, "color": "#dc1a1a", "size": 24, "opacity": 1}},
   "encoding": {"x": {"field": "v", "type": "quantitative", "scale": {"domain": [26.0, 27.0], "nice": false, "zero": false}, "axis": {"orient": "bottom", "title": "Θερμοκρασία (°C)", "titleColor": "#e82a2a", "titlePadding": 21, "values": [26.0,26.2,26.4,26.6,26.8,27.0], "format": ".1f"}}, "order": {"value": null}}},
  {"transform": [{"filter": "datum.s=='C'"}], "mark": {"type": "line", "color": "#4a4aff", "strokeWidth": 1, "point": {"filled": true, "color": "#1a1ac8", "size": 24, "opacity": 1}},
   "encoding": {"x": {"field": "v", "type": "quantitative", "scale": {"domain": [0, 6], "nice": false, "zero": false}, "axis": {"orient": "top", "title": "Αγωγιμότητα (S/m)", "titleColor": "#2a2ae8", "titlePadding": 14, "values": [0,1,2,3,4,5,6], "format": "d"}}, "order": {"value": null}}}
 ],
 "resolve": {"scale": {"x": "independent"}}},
{"title": "LP3 Ιουλ 20", "data": {"name": "iul"}, "width": 370, "height": 269,
 "encoding": {"y": {"field": "d", "type": "quantitative", "scale": {"domain": [0.5, 1.4], "reverse": true, "nice": false, "zero": false}, "axis": {"title": "Βάθος (m)", "values": [0.6,0.8,1.0,1.2,1.4], "format": ".1f"}}},
 "layer": [
  {"transform": [{"filter": "datum.s=='T'"}], "mark": {"type": "line", "color": "#ff4a4a", "strokeWidth": 1, "point": {"filled": true, "color": "#dc1a1a", "size": 24, "opacity": 1}},
   "encoding": {"x": {"field": "v", "type": "quantitative", "scale": {"domain": [28.00, 28.35], "nice": false, "zero": false}, "axis": {"orient": "bottom", "title": "Θερμοκρασία (°C)", "titleColor": "#e82a2a", "titlePadding": 21, "values": [28.00,28.05,28.10,28.15,28.20,28.25,28.30], "format": ".2f"}}, "order": {"value": null}}},
  {"transform": [{"filter": "datum.s=='C'"}], "mark": {"type": "line", "color": "#4a4aff", "strokeWidth": 1, "point": {"filled": true, "color": "#1a1ac8", "size": 24, "opacity": 1}},
   "encoding": {"x": {"field": "v", "type": "quantitative", "scale": {"domain": [5.40, 5.75], "nice": false, "zero": false}, "axis": {"orient": "top", "title": "Αγωγιμότητα (S/m)", "titleColor": "#2a2ae8", "titlePadding": 14, "values": [5.40,5.45,5.50,5.55,5.60,5.65,5.70,5.75], "format": ".2f"}}, "order": {"value": null}}}
 ],
 "resolve": {"scale": {"x": "independent"}}},
{"title": "LP3 Αυγ 20", "data": {"name": "aug"}, "width": 370, "height": 269,
 "encoding": {"y": {"field": "d", "type": "quantitative", "scale": {"domain": [0.0, 1.0], "reverse": true, "nice": false, "zero": false}, "axis": {"title": "Βάθος (m)", "values": [0.0,0.2,0.4,0.6,0.8,1.0], "format": ".1f"}}},
 "layer": [
  {"transform": [{"filter": "datum.s=='T'"}], "mark": {"type": "line", "color": "#ff4a4a", "strokeWidth": 1, "point": {"filled": true, "color": "#dc1a1a", "size": 24, "opacity": 1}},
   "encoding": {"x": {"field": "v", "type": "quantitative", "scale": {"domain": [25.0, 28.0], "nice": false, "zero": false}, "axis": {"orient": "bottom", "title": "Θερμοκρασία (°C)", "titleColor": "#e82a2a", "titlePadding": 21, "values": [25.0,25.5,26.0,26.5,27.0,27.5,28.0], "format": ".1f"}}, "order": {"value": null}}},
  {"transform": [{"filter": "datum.s=='C'"}], "mark": {"type": "line", "color": "#4a4aff", "strokeWidth": 1, "point": {"filled": true, "color": "#1a1ac8", "size": 24, "opacity": 1}},
   "encoding": {"x": {"field": "v", "type": "quantitative", "scale": {"domain": [0, 7], "nice": false, "zero": false}, "axis": {"orient": "top", "title": "Αγωγιμότητα (S/m)", "titleColor": "#2a2ae8", "titlePadding": 14, "values": [0,1,2,3,4,5,6,7], "format": "d"}}, "order": {"value": null}}}
 ],
 "resolve": {"scale": {"x": "independent"}}},
{"title": "LP3 Σεπ 20", "data": {"name": "sep"}, "width": 370, "height": 269,
 "encoding": {"y": {"field": "d", "type": "quantitative", "scale": {"domain": [0.0, 1.6], "reverse": true, "nice": false, "zero": false}, "axis": {"title": "Βάθος (m)", "values": [0.0,0.2,0.4,0.6,0.8,1.0,1.2,1.4,1.6], "format": ".1f"}}},
 "layer": [
  {"transform": [{"filter": "datum.s=='T'"}], "mark": {"type": "line", "color": "#ff4a4a", "strokeWidth": 1, "point": {"filled": true, "color": "#dc1a1a", "size": 24, "opacity": 1}},
   "encoding": {"x": {"field": "v", "type": "quantitative", "scale": {"domain": [25.2, 26.0], "nice": false, "zero": false}, "axis": {"orient": "bottom", "title": "Θερμοκρασία (°C)", "titleColor": "#e82a2a", "titlePadding": 21, "values": [25.2,25.3,25.4,25.5,25.6,25.7,25.8,25.9], "format": ".1f"}}, "order": {"value": null}}},
  {"transform": [{"filter": "datum.s=='C'"}], "mark": {"type": "line", "color": "#4a4aff", "strokeWidth": 1, "point": {"filled": true, "color": "#1a1ac8", "size": 24, "opacity": 1}},
   "encoding": {"x": {"field": "v", "type": "quantitative", "scale": {"domain": [5.0, 5.8], "nice": false, "zero": false}, "axis": {"orient": "top", "title": "Αγωγιμότητα (S/m)", "titleColor": "#2a2ae8", "titlePadding": 14, "values": [5.0,5.2,5.4,5.6,5.8], "format": ".1f"}}, "order": {"value": null}}}
 ],
 "resolve": {"scale": {"x": "independent"}}},
{"title": "LP3 Οκτ 20", "data": {"name": "okt"}, "width": 370, "height": 269,
 "encoding": {"y": {"field": "d", "type": "quantitative", "scale": {"domain": [0.6, 1.6], "reverse": true, "nice": false, "zero": false}, "axis": {"title": "Βάθος (m)", "values": [0.6,0.8,1.0,1.2,1.4,1.6], "format": ".1f"}}},
 "layer": [
  {"transform": [{"filter": "datum.s=='T'"}], "mark": {"type": "line", "color": "#ff4a4a", "strokeWidth": 1, "point": {"filled": true, "color": "#dc1a1a", "size": 24, "opacity": 1}},
   "encoding": {"x": {"field": "v", "type": "quantitative", "scale": {"domain": [20.25, 20.55], "nice": false, "zero": false}, "axis": {"orient": "bottom", "title": "Θερμοκρασία (°C)", "titleColor": "#e82a2a", "titlePadding": 21, "values": [20.25,20.30,20.35,20.40,20.45,20.50], "format": ".2f"}}, "order": {"value": null}}},
  {"transform": [{"filter": "datum.s=='C'"}], "mark": {"type": "line", "color": "#4a4aff", "strokeWidth": 1, "point": {"filled": true, "color": "#1a1ac8", "size": 24, "opacity": 1}},
   "encoding": {"x": {"field": "v", "type": "quantitative", "scale": {"domain": [5.145, 5.180], "nice": false, "zero": false}, "axis": {"orient": "top", "title": "Αγωγιμότητα (S/m)", "titleColor": "#2a2ae8", "titlePadding": 14, "values": [5.145,5.150,5.155,5.160,5.165,5.170,5.175,5.180], "format": ".3f"}}, "order": {"value": null}}}
 ],
 "resolve": {"scale": {"x": "independent"}}},
{"title": "LP3 Νοε 20", "data": {"name": "noe"}, "width": 370, "height": 269,
 "encoding": {"y": {"field": "d", "type": "quantitative", "scale": {"domain": [0.4, 1.4], "reverse": true, "nice": false, "zero": false}, "axis": {"title": "Βάθος (m)", "values": [0.4,0.6,0.8,1.0,1.2,1.4], "format": ".1f"}}},
 "layer": [
  {"transform": [{"filter": "datum.s=='T'"}], "mark": {"type": "line", "color": "#ff4a4a", "strokeWidth": 1, "point": {"filled": true, "color": "#dc1a1a", "size": 24, "opacity": 1}},
   "encoding": {"x": {"field": "v", "type": "quantitative", "scale": {"domain": [14.20, 14.45], "nice": false, "zero": false}, "axis": {"orient": "bottom", "title": "Θερμοκρασία (°C)", "titleColor": "#e82a2a", "titlePadding": 21, "values": [14.20,14.25,14.30,14.35,14.40,14.45], "format": ".2f"}}, "order": {"value": null}}},
  {"transform": [{"filter": "datum.s=='C'"}], "mark": {"type": "line", "color": "#4a4aff", "strokeWidth": 1, "point": {"filled": true, "color": "#1a1ac8", "size": 24, "opacity": 1}},
   "encoding": {"x": {"field": "v", "type": "quantitative", "scale": {"domain": [4.10, 4.50], "nice": false, "zero": false}, "axis": {"orient": "top", "title": "Αγωγιμότητα (S/m)", "titleColor": "#2a2ae8", "titlePadding": 14, "values": [4.10,4.15,4.20,4.25,4.30,4.35,4.40,4.45,4.50], "format": ".2f"}}, "order": {"value": null}}}
 ],
 "resolve": {"scale": {"x": "independent"}}},
{"title": "LP3 Δεκ 20", "data": {"name": "dek"}, "width": 370, "height": 269,
 "encoding": {"y": {"field": "d", "type": "quantitative", "scale": {"domain": [0.4, 1.6], "reverse": true, "nice": false, "zero": false}, "axis": {"title": "Βάθος (m)", "values": [0.4,0.6,0.8,1.0,1.2,1.4,1.6], "format": ".1f"}}},
 "layer": [
  {"transform": [{"filter": "datum.s=='T'"}], "mark": {"type": "line", "color": "#ff4a4a", "strokeWidth": 1, "point": {"filled": true, "color": "#dc1a1a", "size": 24, "opacity": 1}},
   "encoding": {"x": {"field": "v", "type": "quantitative", "scale": {"domain": [13.4, 14.2], "nice": false, "zero": false}, "axis": {"orient": "bottom", "title": "Θερμοκρασία (°C)", "titleColor": "#e82a2a", "titlePadding": 21, "values": [13.4,13.5,13.6,13.7,13.8,13.9,14.0,14.1,14.2], "format": ".1f"}}, "order": {"value": null}}},
  {"transform": [{"filter": "datum.s=='C'"}], "mark": {"type": "line", "color": "#4a4aff", "strokeWidth": 1, "point": {"filled": true, "color": "#1a1ac8", "size": 24, "opacity": 1}},
   "encoding": {"x": {"field": "v", "type": "quantitative", "scale": {"domain": [3.7, 4.5], "nice": false, "zero": false}, "axis": {"orient": "top", "title": "Αγωγιμότητα (S/m)", "titleColor": "#2a2ae8", "titlePadding": 14, "values": [3.7,3.8,3.9,4.0,4.1,4.2,4.3,4.4,4.5], "format": ".1f"}}, "order": {"value": null}}}
 ],
 "resolve": {"scale": {"x": "independent"}}}
],
"config": {
 "font": "Liberation Sans",
 "view": {"stroke": "#8a8a8a", "strokeWidth": 1},
 "axis": {"grid": false, "domainColor": "#7a7a7a", "tickColor": "#7a7a7a", "tickSize": 3, "labelFontSize": 8, "labelColor": "#555555", "titleFontSize": 12, "titleFontWeight": "normal", "titleColor": "#333333"},
 "axisTop": {"labelPadding": 5},
 "axisY": {"titlePadding": 11},
 "title": {"fontSize": 12, "fontWeight": "normal", "color": "#333333", "offset": 2}
}
}
